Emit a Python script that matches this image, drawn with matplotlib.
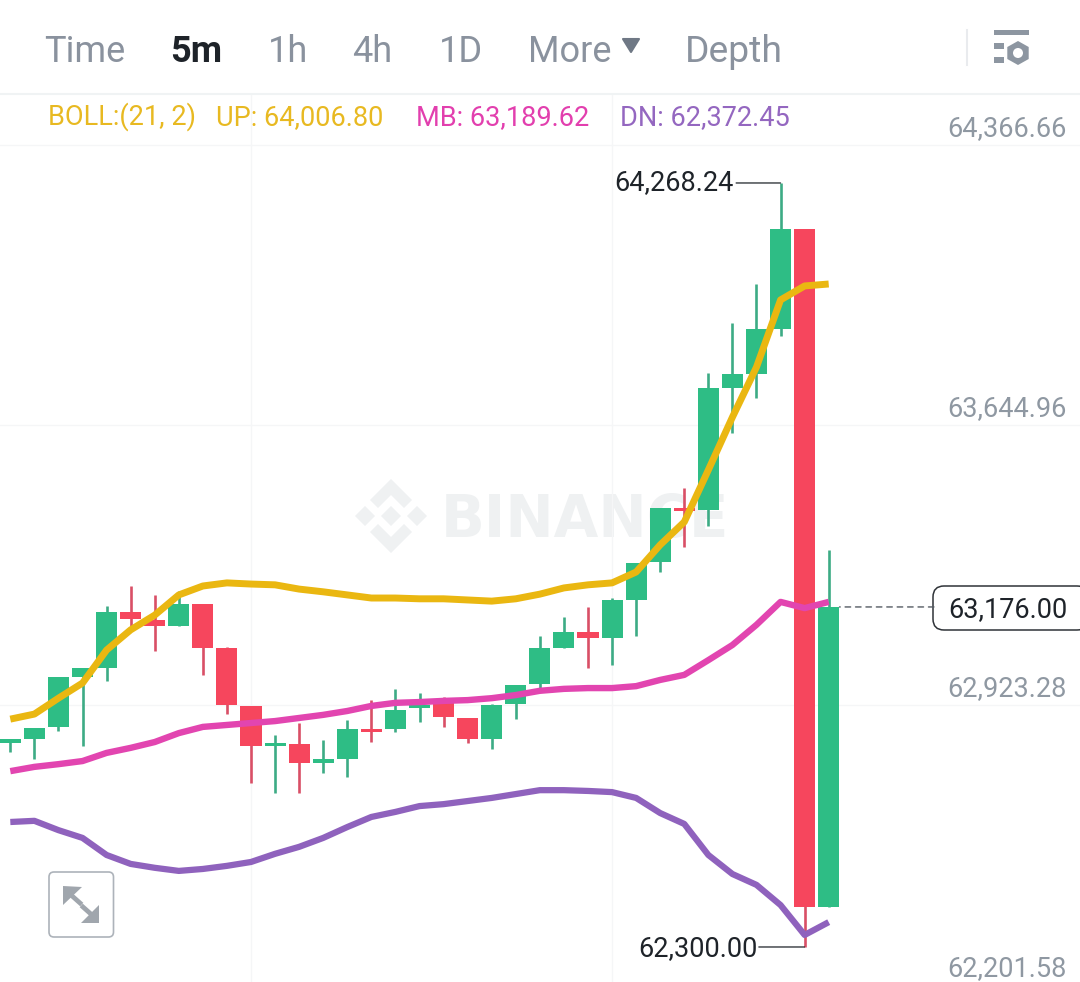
import matplotlib
matplotlib.use("Agg")
import matplotlib.pyplot as plt
from matplotlib.patches import Polygon, FancyBboxPatch, Circle, Rectangle

plt.rcParams['font.family'] = ['Roboto', 'DejaVu Sans']

# ---- data (prices) ----
opens = [62826, 62836, 62867, 62996, 63019, 63163, 63142, 63127, 63184, 63070, 62921, 62818, 62823, 62774, 62784,
         62862, 62862, 62916, 62929, 62890, 62836, 62926, 62978, 63070, 63112, 63096, 63194, 63292, 63431,
         63426, 63740, 63776, 63892, 64150, 62403]
closes = [62836, 62864, 62996, 63019, 63163, 63145, 63127, 63184, 63070, 62923, 62818, 62826, 62774, 62784, 62862,
          62854, 62911, 62923, 62893, 62836, 62923, 62975, 63070, 63112, 63096, 63194, 63289, 63431, 63423,
          63740, 63776, 63892, 64150, 62403, 63176]
highs = [62836, 62864, 62996, 63019, 63178, 63230, 63207, 63217, 63184, 63073, 62921, 62846, 62877, 62833, 62885,
         62936, 62965, 62954, 62944, 62890, 62926, 62975, 63101, 63150, 63176, 63199, 63289, 63431, 63483,
         63779, 63908, 64008, 64268.24, 64150, 63323]
lows = [62802, 62784, 62856, 62818, 62985, 63122, 63063, 63127, 63001, 62900, 62722, 62697, 62697, 62748, 62738,
        62828, 62854, 62880, 62867, 62826, 62810, 62887, 62967, 63070, 63019, 63026, 63101, 63266, 63330,
        63385, 63624, 63714, 63874, 62300, 62403]
boll_up = [62887, 62900, 62941, 62980, 63065, 63117, 63155, 63207, 63230, 63238, 63235, 63233, 63222, 63215, 63207,
           63199, 63199, 63197, 63197, 63194, 63191, 63197, 63209, 63225, 63233, 63238, 63266, 63336, 63395,
           63529, 63665, 63794, 63967, 64003, 64008]
boll_mb = [62753, 62764, 62771, 62779, 62800, 62813, 62828, 62851, 62867, 62872, 62877, 62882, 62890, 62898, 62908,
           62921, 62929, 62931, 62934, 62936, 62941, 62949, 62960, 62965, 62967, 62967, 62972, 62988, 63001,
           63039, 63078, 63130, 63189, 63173, 63189]
boll_dn = [62622, 62625, 62601, 62581, 62537, 62514, 62504, 62496, 62501, 62509, 62519, 62540, 62558, 62581, 62609,
           62635, 62648, 62663, 62668, 62676, 62684, 62694, 62704, 62704, 62702, 62699, 62684, 62645, 62617,
           62537, 62488, 62460, 62408, 62331, 62364]
price_levels = [64366.66, 63644.96, 62923.28, 62201.58]
price_labels = ['64,366.66', '63,644.96', '62,923.28', '62,201.58']
grid_candles = [10, 25]
tabs = ['Time', '5m', '1h', '4h', '1D', 'More', 'Depth']
active_tab = '5m'
high_mark = 64268.24
low_mark = 62300.00
last_price = 63176.00

GREEN, RED = '#2ebd85', '#f6465d'
GREEN_W, RED_W = '#3dab85', '#d94f66'
GRAY, DARK = '#8a929e', '#1e2329'
AXIS_GRAY = '#8f98a2'
WM = '#eff1f2'

fig = plt.figure(figsize=(10.8, 9.82), dpi=100, facecolor='white')

# ---- pixel-space layer for the app chrome ----
px = fig.add_axes([0, 0, 1, 1], zorder=0)
px.set_xlim(0, 1080)
px.set_ylim(982, 0)
px.axis('off')

tab_x = [44, 170, 268, 352, 439, 528, 685]
tab_fs = [26, 26, 26, 26, 26, 26, 26.8]
for t, x, fs in zip(tabs, tab_x, tab_fs):
    act = t == active_tab
    px.text(x, 62, t, fontsize=fs, color=DARK if act else GRAY, fontweight='bold' if act else 'normal',
            ha='left', va='baseline')
px.add_patch(Polygon([(623, 39), (639, 39), (631, 52)], closed=True, fc='#6f7885', ec='#6f7885', lw=1.5, joinstyle='round'))
px.plot([967, 967], [30, 65], color='#e9ebee', lw=1.5)
px.plot([0, 1080], [94, 94], color='#f0f3f4', lw=1.5)

IC = '#8d96a1'
px.add_patch(Rectangle((994, 30), 35, 5, fc=IC, ec='none'))
px.add_patch(Rectangle((994, 43), 9.5, 5.5, fc=IC, ec='none'))
px.add_patch(Rectangle((994, 57), 9.5, 5.5, fc=IC, ec='none'))
px.add_patch(Polygon([(1018, 41), (1028.7, 47), (1028.7, 59), (1018, 65), (1007.3, 59), (1007.3, 47)], closed=True, fc=IC, ec='none'))
px.add_patch(Circle((1018, 53), 5, fc='white', ec='none'))

for t, x, c in [('BOLL:(21, 2)', 48, '#e8b921'), ('UP: 64,006.80', 216, '#e8b921'),
                ('MB: 63,189.62', 416, '#e23fae'), ('DN: 62,372.45', 620, '#9467c0')]:
    px.text(x, 125, t, fontsize=19.55, color=c, ha='left', va='baseline')

# watermark
cx, cy = 391, 516
for s in [[(0, -10), (10, 0), (0, 10), (-10, 0)],
          [(-36, 0), (-26, -10), (-16, 0), (-26, 10)],
          [(36, 0), (26, -10), (16, 0), (26, 10)],
          [(0, -37), (21, -16), (13, -8), (0, -21), (-13, -8), (-21, -16)],
          [(0, 37), (21, 16), (13, 8), (0, 21), (-13, 8), (-21, 16)]]:
    px.add_patch(Polygon([(cx + a, cy + b) for a, b in s], closed=True, fc=WM, ec='none'))
px.text(441, 537, 'BINANCE', fontsize=41.6, fontweight='bold', family='DejaVu Sans', color=WM, ha='left', va='baseline')

# expand button
px.add_patch(FancyBboxPatch((49, 872), 64.5, 65, boxstyle='round,pad=0,rounding_size=5', fc='white', ec='#adb3ba', lw=1.2))
BT = '#a0a6ad'
px.add_patch(Polygon([(63, 886), (82, 887), (63, 905)], closed=True, fc=BT, ec='none'))
px.add_patch(Polygon([(99, 905), (99, 923), (81, 923)], closed=True, fc=BT, ec='none'))
px.plot([71, 80], [895, 903], color=BT, lw=3.4)
px.plot([83, 92], [907, 915], color=BT, lw=3.4)

# ---- chart ----
ax = fig.add_axes([0, 0, 1, 887 / 982], zorder=1)
ax.patch.set_alpha(0)
for sp in ax.spines.values():
    sp.set_visible(False)
ax.set_yticks(price_levels)
ax.set_xticks(grid_candles)
ax.set_xlim(-0.428, 44.44)
ax.set_ylim(62209.8, 64494.9)
ax.tick_params(length=0, labelleft=False, labelbottom=False)
ax.grid(True, color='#f5f6f7', lw=1)
ax.set_axisbelow(True)

idx = list(range(len(opens)))
for i, o, c, h, l in zip(idx, opens, closes, highs, lows):
    up = c >= o
    ax.vlines(i, l, h, color=GREEN_W if up else RED_W, lw=1.9, zorder=2)
    ax.bar(i, abs(c - o), bottom=min(o, c), width=0.875, color=GREEN if up else RED, linewidth=0, zorder=3)

for vals, col, lw in [(boll_up, '#eab711', 5.0), (boll_mb, '#e245b0', 4.6), (boll_dn, '#8f62bd', 4.5)]:
    ax.plot(idx, vals, color=col, lw=lw, solid_joinstyle='round', solid_capstyle='butt', zorder=4)

for p, lab in zip(price_levels, price_labels):
    ax.annotate(lab, xy=(1, p), xycoords=ax.get_yaxis_transform(), xytext=(-9.4, 6.5), textcoords='offset points',
                ha='right', va='baseline', fontsize=19.55, color=AXIS_GRAY, annotation_clip=False)

# high / low markers
hi_i = highs.index(high_mark)
lo_i = lows.index(low_mark)
ax.annotate('', xy=(hi_i, high_mark), xytext=(-32, 0), textcoords='offset points',
            arrowprops=dict(arrowstyle='-', color=DARK, lw=0.9, shrinkA=0, shrinkB=0), zorder=5)
ax.annotate(f'{high_mark:,.2f}', xy=(hi_i, high_mark), xytext=(-33.5, -5), textcoords='offset points',
            ha='right', va='baseline', fontsize=19.55, color=DARK)
ax.annotate('', xy=(lo_i, low_mark), xytext=(-33, 0), textcoords='offset points',
            arrowprops=dict(arrowstyle='-', color=DARK, lw=0.9, shrinkA=0, shrinkB=0), zorder=5)
ax.annotate(f'{low_mark:,.2f}', xy=(lo_i, low_mark), xytext=(-33.5, -6.5), textcoords='offset points',
            ha='right', va='baseline', fontsize=19.55, color=DARK)

# last price
last_i = len(opens) - 1
ax.annotate('', xy=(last_i + 0.45, last_price), xytext=(68, 0), textcoords='offset points',
            arrowprops=dict(arrowstyle='-', color='#555b63', lw=1, linestyle=(0, (4, 3.5)), shrinkA=0, shrinkB=0), zorder=2)
px.add_patch(FancyBboxPatch((933, 586), 155, 44, boxstyle='round,pad=0,rounding_size=11', fc='white', ec='#2f3338', lw=1.1, clip_on=True))
px.text(1067, 617, f'{last_price:,.2f}', fontsize=19.55, color=DARK, ha='right', va='baseline')

fig.savefig('out.png', dpi=100, facecolor='white')
